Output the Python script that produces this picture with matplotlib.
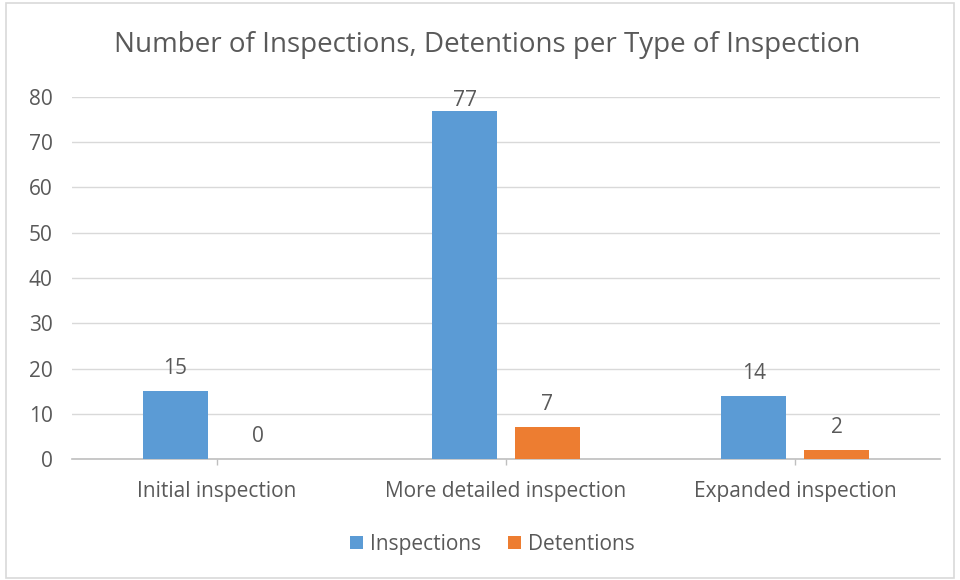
import matplotlib
matplotlib.use('Agg')
from matplotlib import pyplot as plt
from matplotlib.patches import Rectangle
import numpy as np

# --- Datos ---------------------------------------------------------------------------------------
categories = ['Initial inspection', 'More detailed inspection', 'Expanded inspection']
inspections = [15, 77, 14]
detentions = [0, 7, 2]
series_names = ['Inspections', 'Detentions']
title = 'Number of Inspections, Detentions per Type of Inspection'

BLUE = '#5B9BD5'
ORANGE = '#ED7D31'
TXT = '#595959'
YMAX = 80

plt.rcParams['font.family'] = ['Open Sans', 'DejaVu Sans']

# --- Figura --------------------------------------------------------------------------------------
fig = plt.figure(figsize=(9.6, 5.8), dpi=100)
fig.patches.append(Rectangle((0.006, 0.004), 0.988, 0.99, transform=fig.transFigure,
                             fill=False, edgecolor='#d9d9d9', linewidth=1.2))
ax = fig.add_axes([0.075, 0.2086, 0.904, 0.6242])

x = np.arange(len(categories))
w = 0.225
off = 0.143
b1 = ax.bar(x - off, inspections, w, color=BLUE, label=series_names[0], zorder=3)
b2 = ax.bar(x + off, detentions, w, color=ORANGE, label=series_names[1], zorder=3)

ax.set_xlim(-0.5, 2.5)
ax.set_ylim(0, YMAX)

# Etiquetas de datos: se bajan si no entran dentro del area de graficado
px_per_unit = ax.get_position().height * fig.get_figheight() * fig.dpi / YMAX
for bars, vals in [(b1, inspections), (b2, detentions)]:
    for b, v in zip(bars, vals):
        off_px = min(17, (YMAX - v) * px_per_unit - 9)
        ax.annotate(str(v), (b.get_x() + b.get_width() / 2, v), xytext=(0, off_px * 72 / fig.dpi),
                    textcoords='offset points', ha='center', va='baseline',
                    fontsize=15, color=TXT)

# --- Ejes ----------------------------------------------------------------------------------------
ax.set_yticks(np.arange(0, YMAX + 1, 10))
ax.set_xticks(x)
ax.set_xticklabels(categories)
ax.grid(axis='y', color='#d9d9d9', linewidth=1, zorder=0)
for s in ['top', 'right', 'left']:
    ax.spines[s].set_visible(False)
ax.spines['bottom'].set_color('#bfbfbf')
ax.spines['bottom'].set_linewidth(1.2)
ax.tick_params(axis='y', length=0, pad=14, labelsize=15, labelcolor=TXT)
ax.tick_params(axis='x', length=4, color='#bfbfbf', width=1, pad=12, labelsize=15, labelcolor=TXT)

fig.text(0.508, 0.922, title, ha='center', va='center', fontsize=20, color=TXT)

leg = fig.legend(handles=[b1, b2], labels=series_names, loc='center', bbox_to_anchor=(0.513, 0.062),
                 ncol=2, frameon=False, fontsize=15, handlelength=0.6, handleheight=0.6,
                 handletextpad=0.35, columnspacing=1.3)
for t in leg.get_texts():
    t.set_color(TXT)

fig.savefig('out.png', dpi=100)
